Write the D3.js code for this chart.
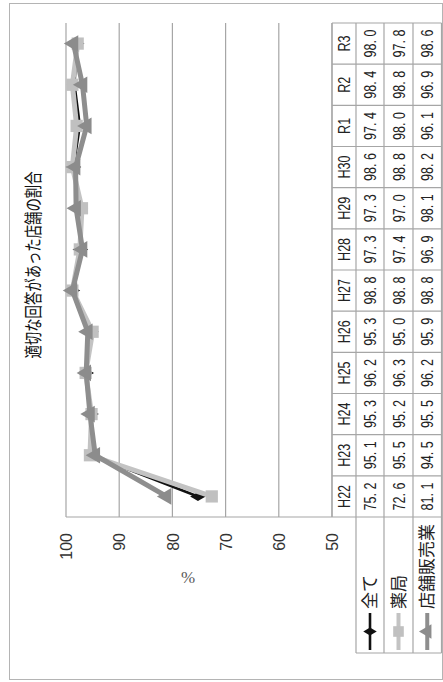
<!DOCTYPE html>
<html>
<head>
<meta charset="utf-8">
<script src="https://cdn.jsdelivr.net/npm/d3@7"></script>
<style>
  html, body { margin: 0; padding: 0; background: #fff; }
  svg { display: block; }
</style>
</head>
<body>
<svg id="chart" width="443" height="682"></svg>
<script>
// Survey years and the share (%) of stores that answered appropriately
const categories = ["H22","H23","H24","H25","H26","H27","H28","H29","H30","R1","R2","R3"];
const allStores  = [75.2, 95.1, 95.3, 96.2, 95.3, 98.8, 97.3, 97.3, 98.6, 97.4, 98.4, 98.0];
const pharmacy   = [72.6, 95.5, 95.2, 96.3, 95.0, 98.8, 97.4, 97.0, 98.8, 98.0, 98.8, 97.8];
const drugstore  = [81.1, 94.5, 95.5, 96.2, 95.9, 98.8, 96.9, 98.1, 98.2, 96.1, 96.9, 98.6];
const seriesNames = ["全て", "薬局", "店舗販売業"];
const valueTicks = [50, 60, 70, 80, 90, 100];
const titleText = "適切な回答があった店舗の割合";
const axisTitle = "%";

const W = 682, H = 443;           // layout size before the page-level rotation
const svg = d3.select("#chart");
// The whole chart is laid out landscape and turned a quarter turn counter-clockwise
const g = svg.append("g").attr("transform", `translate(0,${W}) rotate(-90)`);

const gridColor = "#a6a6a6";
const latin = "'Liberation Sans', Arial, sans-serif";
const cjk = "'Noto Sans CJK JP', 'Noto Sans CJK SC', sans-serif";

// outer frame
g.append("rect")
  .attr("x", 2.5).attr("y", 9.5).attr("width", 676).attr("height", 433)
  .attr("fill", "none").attr("stroke", "#b4b4b4").attr("stroke-width", 1);

// scales
const x = d3.scaleBand().domain(categories).range([165, 659]);
const y = d3.scaleLinear().domain([50, 100]).range([332, 66]);

// horizontal gridlines
g.append("g").selectAll("line").data(valueTicks).join("line")
  .attr("x1", 165).attr("x2", 659)
  .attr("y1", d => y(d)).attr("y2", d => y(d))
  .attr("stroke", gridColor).attr("stroke-width", 1.2);

// value axis labels
const yAxis = g.append("g").attr("transform", "translate(165,0)")
  .call(d3.axisLeft(y).tickValues(valueTicks).tickSize(0).tickPadding(16).tickFormat(d3.format("d")));
yAxis.select(".domain").remove();
yAxis.selectAll("text")
  .attr("font-family", latin).attr("font-size", 16).attr("fill", "#333")
  .attr("dy", "0.36em");

// axis title, kept upright on the page
g.append("text")
  .attr("transform", "translate(105,188) rotate(90)")
  .attr("text-anchor", "middle").attr("dy", "0.35em")
  .attr("font-family", "'Liberation Serif', 'DejaVu Serif', serif")
  .attr("font-size", 17).attr("fill", "#595959")
  .text(axisTitle);

// chart title
g.append("text")
  .attr("x", 417).attr("y", 34)
  .attr("text-anchor", "middle").attr("dy", "0.36em")
  .attr("font-family", cjk).attr("font-size", 18).attr("fill", "#111")
  .attr("textLength", 187).attr("lengthAdjust", "spacingAndGlyphs")
  .text(titleText);

// ---- data table under the plot ----
const rowEdges = [332, 356, 384, 413, 441.5];
const legendLeft = 29;
const tbl = g.append("g").attr("stroke", gridColor).attr("stroke-width", 1.2);
// value axis line runs down through the table
tbl.append("line").attr("x1", 165).attr("x2", 165).attr("y1", y(100)).attr("y2", rowEdges[4]);
// row separators
rowEdges.forEach((r, i) => {
  tbl.append("line")
    .attr("x1", i === 0 ? 165 : legendLeft).attr("x2", 659)
    .attr("y1", r).attr("y2", r);
});
// column separators
const colEdges = categories.map(c => x(c) + x.bandwidth());
colEdges.forEach(cx => {
  tbl.append("line").attr("x1", cx).attr("x2", cx).attr("y1", rowEdges[0]).attr("y2", rowEdges[4]);
});
tbl.append("line").attr("x1", legendLeft).attr("x2", legendLeft).attr("y1", rowEdges[1]).attr("y2", rowEdges[4]);

// condensed numeric labels
function numText(sel, cx, cy, str) {
  sel.append("text")
    .attr("transform", `translate(${cx},${cy}) scale(0.74,1)`)
    .attr("text-anchor", "middle").attr("dy", "0.36em")
    .attr("font-family", latin).attr("font-size", 17).attr("fill", "#222")
    .text(str);
}
const tt = g.append("g");
categories.forEach(c => numText(tt, x(c) + x.bandwidth() / 2, (rowEdges[0] + rowEdges[1]) / 2, c));
const tableSeries = [allStores, pharmacy, drugstore];
const fmt = d3.format(".1f");
tableSeries.forEach((vals, si) => {
  const cy = (rowEdges[si + 1] + rowEdges[si + 2]) / 2;
  vals.forEach((v, i) => numText(tt, x(categories[i]) + x.bandwidth() / 2, cy, fmt(v).replace(".", ". ")));
});

// ---- series ----
const styles = [
  { data: allStores, color: "#111111", width: 2.6, marker: "diamond", mColor: "#111111", size: 70 },
  { data: pharmacy,  color: "#c3c3c3", width: 5,   marker: "square",  mColor: "#c0c0c0", size: 150 },
  { data: drugstore, color: "#8e8e8e", width: 5,   marker: "triangle",mColor: "#8c8c8c", size: 120 }
];
const symbolType = { diamond: d3.symbolDiamond, square: d3.symbolSquare, triangle: d3.symbolTriangle };
const line = d3.line().x((d, i) => x(categories[i]) + x.bandwidth() / 2).y(d => y(d));

styles.forEach(s => {
  const sg = g.append("g");
  sg.append("path").attr("d", line(s.data))
    .attr("fill", "none").attr("stroke", s.color).attr("stroke-width", s.width)
    .attr("stroke-linejoin", "round");
  sg.selectAll("path.m").data(s.data).join("path").attr("class", "m")
    .attr("transform", (d, i) => `translate(${x(categories[i]) + x.bandwidth() / 2},${y(d)})`)
    .attr("d", d3.symbol().type(symbolType[s.marker]).size(s.size))
    .attr("fill", s.mColor);
});

// ---- legend keys in the table rows ----
styles.forEach((s, si) => {
  const cy = (rowEdges[si + 1] + rowEdges[si + 2]) / 2;
  const lg = g.append("g");
  lg.append("line").attr("x1", 32).attr("x2", 69).attr("y1", cy).attr("y2", cy)
    .attr("stroke", s.color).attr("stroke-width", s.width === 5 ? 4 : 2.6);
  lg.append("path").attr("transform", `translate(50.5,${cy})`)
    .attr("d", d3.symbol().type(symbolType[s.marker]).size(s.size * 0.75))
    .attr("fill", s.mColor);
  lg.append("text").attr("x", 73).attr("y", cy).attr("dy", "0.36em")
    .attr("font-family", cjk).attr("font-size", 17).attr("fill", "#222")
    .text(seriesNames[si]);
});
</script>
</body>
</html>
